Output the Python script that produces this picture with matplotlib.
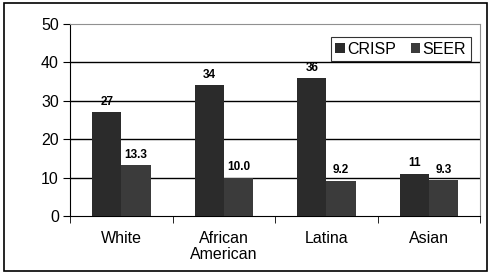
import matplotlib.pyplot as plt
import numpy as np
from matplotlib.patches import Rectangle

plt.rcParams['font.family'] = ['Liberation Sans', 'DejaVu Sans']

groups = ['White', 'African\nAmerican', 'Latina', 'Asian']
crisp = [27, 34, 36, 11]
seer = [13.3, 10.0, 9.2, 9.3]
crisp_labels = ['27', '34', '36', '11']
seer_labels = ['13.3', '10.0', '9.2', '9.3']

fig = plt.figure(figsize=(4.9, 2.73), dpi=100)
ax = fig.add_axes([0.143, 0.209, 0.837, 0.703])

x = np.arange(len(groups))
w = 0.285
b1 = ax.bar(x - w / 2, crisp, w, color='#2b2b2b', label='CRISP', zorder=3)
b2 = ax.bar(x + w / 2, seer, w, color='#3b3b3b', label='SEER', zorder=3)

for bars, labels in [(b1, crisp_labels), (b2, seer_labels)]:
    for r, t in zip(bars, labels):
        ax.text(r.get_x() + r.get_width() / 2, r.get_height() + 1.1, t,
                ha='center', va='bottom', fontsize=8.5, fontweight='bold')

ax.set_xlim(-0.5, 3.5)
ax.set_ylim(0, 50)
ax.set_yticks(range(0, 51, 10))
ax.set_xticks(x)
ax.set_xticklabels(groups, fontsize=11.5, va='top', linespacing=1.05)
ax.set_xticks(np.arange(-0.5, 4, 1), minor=True)
ax.tick_params(axis='x', which='major', length=0, pad=11)
ax.tick_params(axis='x', which='minor', length=5, direction='out', color='black')
ax.tick_params(axis='y', length=5, direction='out', labelsize=11.5, pad=3)

for yv in [10, 20, 30, 40]:
    ax.axhline(yv, color='black', linewidth=1, zorder=1)

ax.spines['left'].set_color('black')
ax.spines['bottom'].set_color('black')
ax.spines['top'].set_color('#909090')
ax.spines['right'].set_color('#909090')

leg = ax.legend(loc='upper right', ncol=2, fontsize=11.5, frameon=True, fancybox=False,
                edgecolor='black', handlelength=0.6, handleheight=0.6,
                handletextpad=0.15, columnspacing=0.9, borderpad=0.3,
                bbox_to_anchor=(0.997, 0.975))
leg.get_frame().set_linewidth(0.8)

fig.patches.append(Rectangle((0.008, 0.006), 0.986, 0.982, transform=fig.transFigure,
                             fill=False, edgecolor='black', linewidth=1.2))

fig.savefig('out.png', dpi=100)
